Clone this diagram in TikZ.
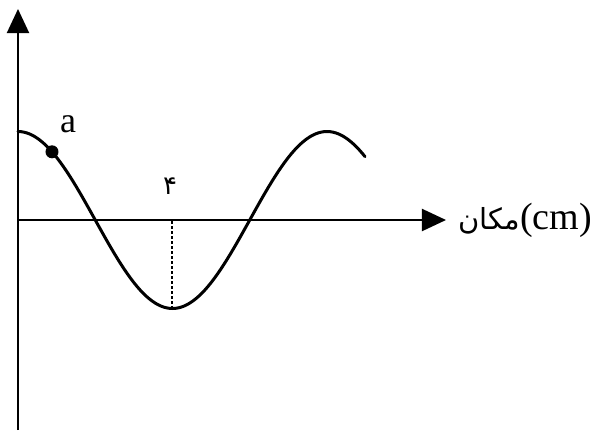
\documentclass[tikz,border=0pt]{standalone}
\usepackage{fontspec}
\setmainfont{Liberation Serif}
\newfontfamily\arabicfont[Script=Arabic]{DejaVu Sans}
\TeXXeTstate=1
\usetikzlibrary{arrows.meta, positioning}
\tikzset{
    axis/.style={line width=1pt, -{Triangle[length=12pt, width=11pt]}},
    wave/.style={line width=1.5pt, line cap=round},
    guide/.style={line width=1pt, dash pattern=on 1.5pt off 1pt},
    dot/.style={circle, fill, inner sep=0pt, minimum size=6.5pt},
    textlabel/.style={font=\fontsize{19}{21}\selectfont, inner sep=0pt}
}

\begin{document}
\begin{tikzpicture}[x=0.5pt, y=0.5pt]

    \useasboundingbox (0,0) rectangle (591,430);

    \coordinate (ybot) at (18,0);
    \coordinate (ytop) at (18,421);
    \coordinate (origin) at (18,210);
    \coordinate (xend) at (446,210);
    \coordinate (trough) at (172.5,121.5);

    \draw[axis] (ybot) -- (ytop);
    \draw[axis] (origin) -- (xend);

    % wavelength 309, amplitude 88.5
    \draw[wave] plot[domain=18:365, samples=120, smooth] (\x, {210+88.5*cos((\x-18)*1.16505)});
    \draw[guide] (trough) -- (trough |- origin);

    \node[dot] (pointa) at (52,278.2) {};
    \node[textlabel, font=\fontsize{18}{20}\selectfont] (labela) at (68,306) {a};
    \node[textlabel, font=\arabicfont\fontsize{13}{15}\selectfont] (tickfour) at (170,244) {۴};
    \node[textlabel, right=6pt of xend] (xlabel) {{\arabicfont\fontsize{14.5}{16}\selectfont\beginR مکان\endR}(cm)};

\end{tikzpicture}
\end{document}
